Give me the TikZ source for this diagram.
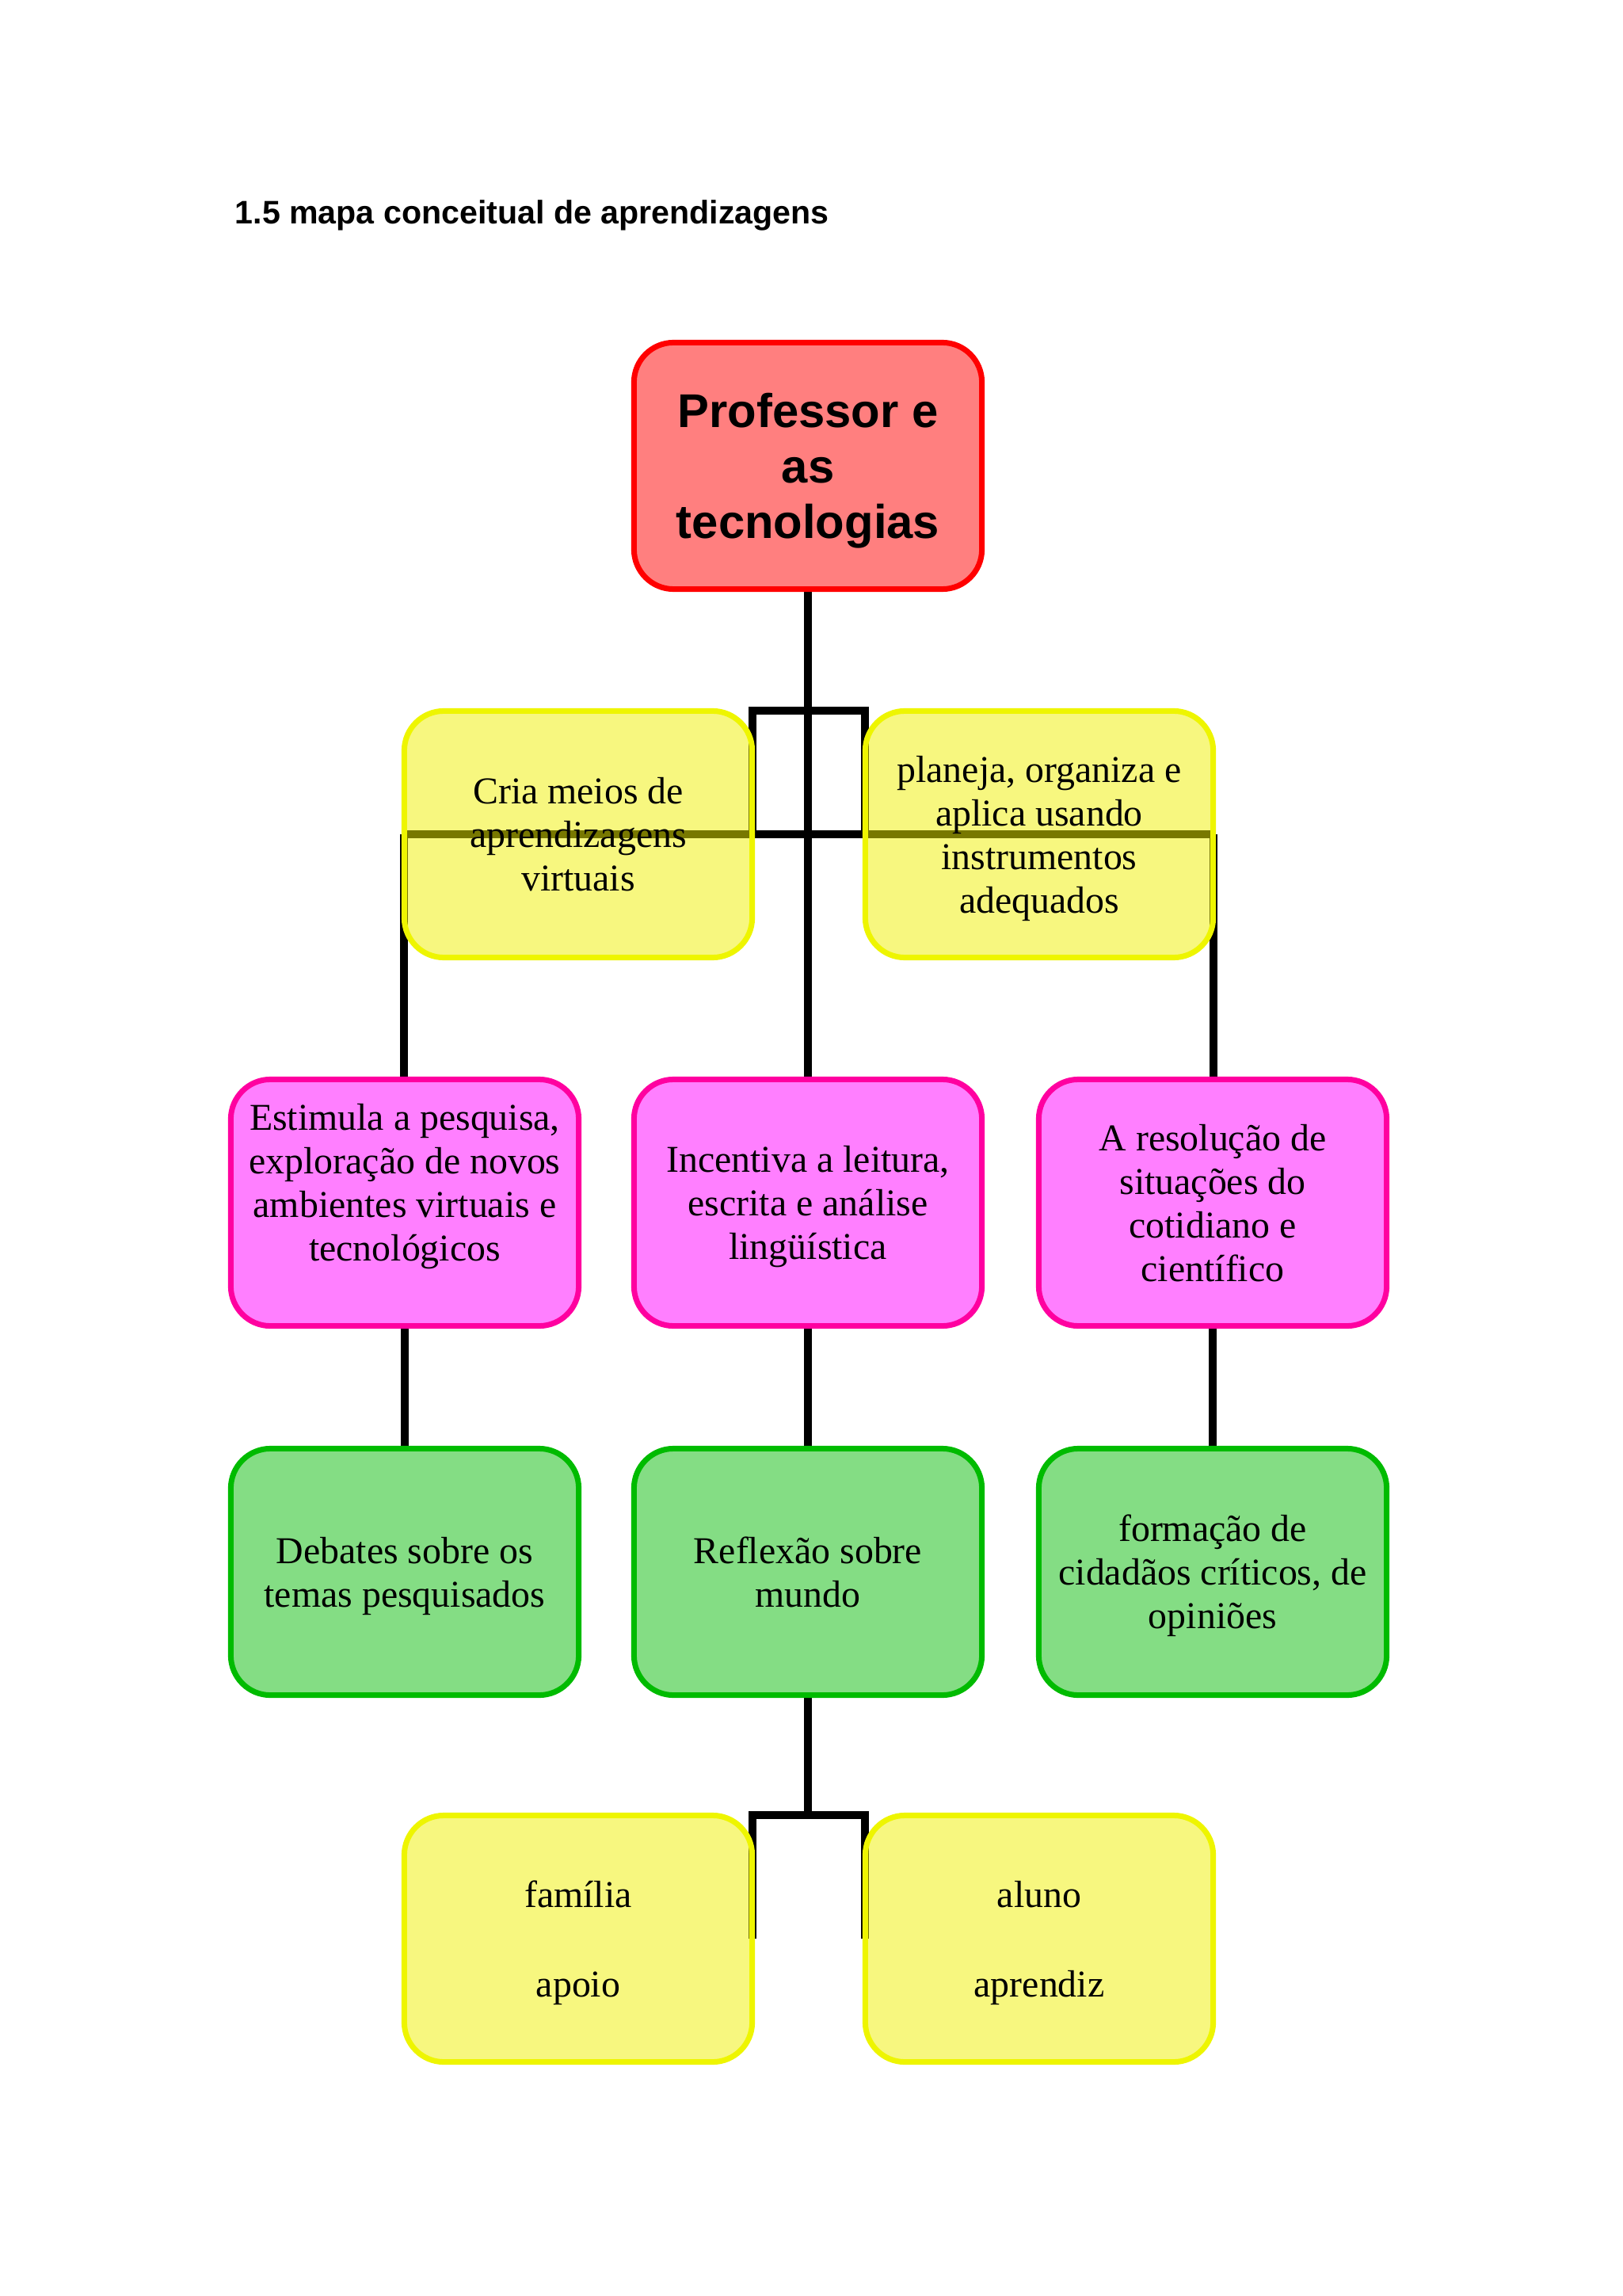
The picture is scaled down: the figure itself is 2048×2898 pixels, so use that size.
\documentclass[tikz,border=0pt]{standalone}
\usepackage{fontspec}
\setmainfont{Liberation Serif}
\newfontfamily\arialf{Liberation Sans}
\definecolor{redb}{RGB}{255,0,0}
\definecolor{redf}{RGB}{255,0,0}
\definecolor{ylwb}{RGB}{238,245,0}
\definecolor{ylwf}{RGB}{240,240,0}
\definecolor{pinkb}{RGB}{255,0,160}
\definecolor{pinkf}{RGB}{255,0,255}
\definecolor{grnb}{RGB}{0,187,0}
\definecolor{grnf}{RGB}{10,188,10}
\pgfdeclarelayer{back}
\pgfdeclarelayer{bg}
\pgfsetlayers{back,bg,main}
\newcommand\boxfont{\fontsize{13.6}{15.65}\selectfont}
\newcommand\titlefont{\arialf\bfseries\fontsize{11.7}{14}\selectfont}
\newcommand\topfont{\arialf\bfseries\fontsize{17}{19.9}\selectfont}
\begin{document}
\begin{tikzpicture}[x=0.01cm,y=-0.01cm,
  cbox/.style={rounded corners=0.5cm, line width=0.07cm, minimum width=4.39cm,
    minimum height=3.11cm, align=center, inner sep=0pt, outer sep=0pt,
    text depth=0pt,
    fill opacity=0.5, text opacity=1, draw opacity=1, font=\boxfont},
  redbox/.style={cbox, draw=redb, fill=redf, font=\topfont},
  ybox/.style={cbox, draw=ylwb, fill=ylwf},
  pbox/.style={cbox, draw=pinkb, fill=pinkf},
  gbox/.style={cbox, draw=grnb, fill=grnf},
  conn/.style={draw=black, line width=0.1cm}]
\begin{pgfonlayer}{back}
\useasboundingbox[fill=white] (0,0) rectangle (2048,2898);
\end{pgfonlayer}
\node[anchor=base west, font=\titlefont, inner sep=0pt] (title) at (296,283) {1.5 mapa conceitual de aprendizagens};
\node[redbox] (top) at (1020,588) {Professor e\\as\\tecnologias};
\node[ybox] (yl) at (730,1053) {Cria meios de\\aprendizagens\\virtuais};
\node[ybox] (yr) at (1312,1053) {planeja, organiza e\\aplica usando\\instrumentos\\adequados};
\node[pbox] (pl) at (511,1518) {Estimula a pesquisa,\\explora\c{c}\~ao de novos\\ambientes virtuais e\\tecnol\'ogicos\\[-0.03cm]\mbox{}};
\node[pbox] (pm) at (1020,1518) {Incentiva a leitura,\\escrita e an\'alise\\ling\"u\'istica};
\node[pbox] (pr) at (1531,1518) {A resolu\c{c}\~ao de\\situa\c{c}\~oes do\\cotidiano e\\cient\'ifico};
\node[gbox] (gl) at (511,1984) {Debates sobre os\\temas pesquisados};
\node[gbox] (gm) at (1020,1984) {Reflex\~ao sobre\\mundo};
\node[gbox] (gr) at (1531,1984) {forma\c{c}\~ao de\\cidad\~aos cr\'iticos, de\\opini\~oes};
\node[ybox] (fb) at (730,2447) {fam\'ilia\\[0.58cm]apoio};
\node[ybox] (ab) at (1312,2447) {aluno\\[0.58cm]aprendiz};
\begin{pgfonlayer}{bg}
\draw[conn] (top.south) -- (pm.north);
\draw[conn] (yl.east) -- (yl.north east) -- (yr.north west) -- (yr.west);
\draw[conn] (yl.west) -- (yr.east);
\draw[conn] (yl.west) -- (yl.west |- pl.north);
\draw[conn] (yr.east) -- (yr.east |- pr.north);
\draw[conn] (pl.south) -- (gl.north);
\draw[conn] (pm.south) -- (gm.north);
\draw[conn] (pr.south) -- (gr.north);
\draw[conn] (gm.south) -- (gm.south |- fb.north);
\draw[conn] (fb.east) -- (fb.north east) -- (ab.north west) -- (ab.west);
\end{pgfonlayer}
\end{tikzpicture}
\end{document}
